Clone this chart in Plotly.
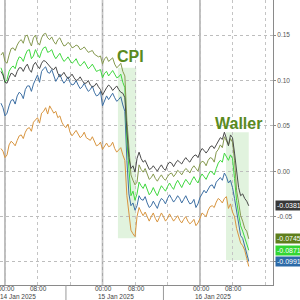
import plotly.graph_objects as go
import pandas as pd

# observations on the hour (13 Jan 23:00 .. 16 Jan 12:00) and on the half hour in between
start = pd.Timestamp("2025-01-13 23:00")
hour_times = pd.date_range(start, periods=62, freq="h")
half_times = pd.date_range(start + pd.Timedelta(minutes=30), periods=61, freq="h")

olive_hour = [0.128, 0.121, 0.128, 0.136, 0.139, 0.145, 0.149, 0.143, 0.147, 0.142,
              0.147, 0.152, 0.145, 0.143, 0.145, 0.142, 0.139, 0.140, 0.137, 0.138,
              0.135, 0.134, 0.132, 0.129, 0.126, 0.118, 0.126, 0.123, 0.118, 0.116,
              0.110, 0.056, -0.004, -0.015, 0.007, -0.001, -0.004, -0.007, -0.008, -0.007,
              -0.008, -0.006, -0.002, -0.003, -0.001, 0.000, 0.001, 0.003, 0.003, 0.008,
              0.010, 0.012, 0.014, 0.021, 0.029, 0.038, 0.029, 0.032, -0.021, -0.049,
              -0.063, -0.0745]
olive_half = [0.131, 0.119, 0.135, 0.133, 0.143, 0.141, 0.150, 0.138, 0.150, 0.139,
              0.151, 0.147, 0.148, 0.140, 0.147, 0.138, 0.142, 0.136, 0.139, 0.134,
              0.137, 0.131, 0.133, 0.127, 0.127, 0.124, 0.121, 0.125, 0.114, 0.119,
              0.105, 0.020, -0.010, -0.012, 0.002, 0.003, -0.009, -0.003, -0.011, -0.004,
              -0.010, -0.003, -0.006, 0.001, -0.004, 0.003, -0.002, 0.006, 0.000, 0.011,
              0.006, 0.015, 0.010, 0.024, 0.026, 0.034, 0.036, 0.012, -0.034, -0.055,
              -0.066]
dark_hour = [0.110, 0.098, 0.103, 0.107, 0.110, 0.114, 0.115, 0.112, 0.117, 0.116,
             0.119, 0.121, 0.116, 0.112, 0.108, 0.106, 0.105, 0.104, 0.103, 0.101,
             0.100, 0.097, 0.095, 0.094, 0.093, 0.084, 0.092, 0.093, 0.091, 0.090,
             0.086, 0.045, 0.003, -0.001, 0.021, 0.010, 0.007, 0.003, 0.003, 0.004,
             0.003, 0.007, 0.009, 0.009, 0.010, 0.012, 0.012, 0.014, 0.018, 0.021,
             0.023, 0.023, 0.028, 0.029, 0.037, 0.043, 0.028, 0.037, 0.003, -0.027,
             -0.030, -0.0381]
dark_half = [0.106, 0.097, 0.108, 0.104, 0.114, 0.110, 0.118, 0.109, 0.120, 0.113,
             0.122, 0.118, 0.113, 0.115, 0.104, 0.109, 0.102, 0.107, 0.100, 0.104,
             0.097, 0.100, 0.093, 0.097, 0.090, 0.089, 0.095, 0.089, 0.094, 0.087,
             0.081, 0.015, 0.006, 0.014, 0.014, 0.012, 0.002, 0.006, 0.000, 0.007,
             0.001, 0.010, 0.005, 0.012, 0.008, 0.015, 0.010, 0.017, 0.015, 0.025,
             0.020, 0.027, 0.025, 0.034, 0.035, 0.036, 0.040, 0.020, -0.018, -0.025,
             -0.033]
green_hour = [0.114, 0.098, 0.110, 0.116, 0.121, 0.125, 0.128, 0.134, 0.127, 0.129,
              0.132, 0.137, 0.132, 0.128, 0.127, 0.125, 0.123, 0.122, 0.121, 0.119,
              0.118, 0.117, 0.115, 0.114, 0.111, 0.103, 0.110, 0.108, 0.107, 0.104,
              0.098, 0.034, -0.027, -0.032, -0.012, -0.019, -0.021, -0.023, -0.023, -0.021,
              -0.019, -0.017, -0.017, -0.014, -0.014, -0.013, -0.012, -0.010, -0.010, -0.007,
              -0.006, -0.004, -0.001, 0.003, 0.012, 0.020, 0.012, 0.014, -0.032, -0.060,
              -0.074, -0.0871]
green_half = [0.108, 0.101, 0.114, 0.113, 0.126, 0.121, 0.133, 0.124, 0.134, 0.125,
              0.136, 0.131, 0.134, 0.124, 0.130, 0.121, 0.126, 0.119, 0.124, 0.116,
              0.121, 0.113, 0.118, 0.110, 0.112, 0.108, 0.105, 0.111, 0.103, 0.107,
              0.092, 0.000, -0.022, -0.025, -0.016, -0.014, -0.026, -0.018, -0.027, -0.016,
              -0.022, -0.013, -0.020, -0.010, -0.018, -0.009, -0.015, -0.006, -0.013, -0.003,
              -0.009, 0.000, -0.004, 0.009, 0.010, 0.016, 0.018, -0.008, -0.047, -0.066,
              -0.080]
blue_hour = [0.075, 0.061, 0.072, 0.079, 0.083, 0.085, 0.090, 0.094, 0.096, 0.106,
             0.110, 0.115, 0.108, 0.104, 0.103, 0.101, 0.100, 0.098, 0.096, 0.095,
             0.093, 0.092, 0.090, 0.087, 0.084, 0.072, 0.083, 0.083, 0.081, 0.079,
             0.073, 0.012, -0.038, -0.043, -0.027, -0.032, -0.035, -0.038, -0.037, -0.034,
             -0.032, -0.030, -0.030, -0.031, -0.030, -0.031, -0.032, -0.035, -0.040, -0.029,
             -0.021, -0.019, -0.015, -0.012, -0.007, -0.002, -0.013, -0.018, -0.043, -0.071,
             -0.082, -0.0991]
blue_half = [0.070, 0.064, 0.078, 0.074, 0.087, 0.080, 0.094, 0.088, 0.101, 0.098,
             0.113, 0.109, 0.112, 0.099, 0.107, 0.097, 0.104, 0.095, 0.100, 0.091,
             0.097, 0.088, 0.094, 0.083, 0.088, 0.078, 0.079, 0.086, 0.077, 0.082,
             0.066, -0.025, -0.035, -0.038, -0.031, -0.028, -0.040, -0.033, -0.041, -0.030,
             -0.036, -0.026, -0.034, -0.027, -0.035, -0.027, -0.036, -0.031, -0.036, -0.025,
             -0.024, -0.016, -0.019, -0.009, -0.010, -0.006, -0.010, -0.030, -0.058, -0.074,
             -0.090]
orange_hour = [0.025, 0.015, 0.029, 0.031, 0.034, 0.040, 0.043, 0.048, 0.054, 0.059,
               0.064, 0.070, 0.072, 0.064, 0.059, 0.054, 0.048, 0.043, 0.042, 0.041,
               0.039, 0.037, 0.034, 0.032, 0.029, 0.024, 0.031, 0.028, 0.025, 0.023,
               0.018, -0.027, -0.065, -0.072, -0.040, -0.049, -0.051, -0.050, -0.052, -0.051,
               -0.050, -0.052, -0.051, -0.052, -0.054, -0.053, -0.055, -0.056, -0.060, -0.052,
               -0.048, -0.043, -0.038, -0.034, -0.032, -0.030, -0.041, -0.045, -0.063, -0.079,
               -0.087, -0.105]
orange_half = [0.022, 0.018, 0.033, 0.028, 0.039, 0.036, 0.047, 0.044, 0.057, 0.053,
               0.066, 0.063, 0.068, 0.066, 0.061, 0.050, 0.052, 0.039, 0.045, 0.037,
               0.043, 0.035, 0.038, 0.028, 0.032, 0.027, 0.027, 0.032, 0.021, 0.026,
               0.012, -0.048, -0.069, -0.050, -0.045, -0.045, -0.055, -0.046, -0.056, -0.046,
               -0.055, -0.047, -0.055, -0.049, -0.057, -0.050, -0.058, -0.053, -0.057, -0.046,
               -0.050, -0.039, -0.040, -0.030, -0.035, -0.028, -0.036, -0.050, -0.072, -0.082,
               -0.096]

y_ticks = [-0.10, -0.05, 0.00, 0.05, 0.10, 0.15]
y_ticktext = ["", "-0.05", "0.00", "0.05", "0.10", "0.15"]
day_starts = ["2025-01-14 00:00", "2025-01-15 00:00", "2025-01-16 00:00"]
day_labels = ["14 Jan 2025", "15 Jan 2025", "16 Jan 2025"]
grid_times = ["2025-01-14 00:00", "2025-01-14 08:00", "2025-01-14 16:00",
              "2025-01-15 00:00", "2025-01-15 08:00", "2025-01-15 16:00",
              "2025-01-16 00:00", "2025-01-16 08:00", "2025-01-16 16:00"]
hour_label_times = ["2025-01-14 00:00", "2025-01-14 08:00", "2025-01-15 00:00",
                    "2025-01-15 08:00", "2025-01-16 00:00", "2025-01-16 08:00"]
hour_labels = ["00:00", "08:00", "00:00", "08:00", "00:00", "08:00"]
events = [("CPI", "2025-01-15 03:48", "2025-01-15 08:18", 0.114, -0.074),
          ("Waller", "2025-01-16 06:24", "2025-01-16 12:00", 0.043, -0.098)]
event_text_pos = [("CPI", "2025-01-15 07:00", 0.1265),
                  ("Waller", "2025-01-16 09:30", 0.0530)]


def merge(hour_vals, half_vals):
    s = pd.concat([pd.Series(hour_vals, index=hour_times),
                   pd.Series(half_vals, index=half_times)]).sort_index()
    return s


series = [
    ("orange", merge(orange_hour, orange_half), "#d8953f", False),
    ("blue", merge(blue_hour, blue_half), "#3d6fa3", True),
    ("green", merge(green_hour, green_half), "#3fd83f", True),
    ("olive", merge(olive_hour, olive_half), "#85994f", True),
    ("dark", merge(dark_hour, dark_half), "#4a4a4a", True),
]
tag_colors = {"orange": "#d8953f", "blue": "#2c6aa8", "green": "#33d633",
              "olive": "#5e7f1c", "dark": "#383838"}

fig = go.Figure()
for name, s, color, _ in series:
    fig.add_trace(go.Scatter(x=s.index, y=s.values, mode="lines", name=name,
                             line=dict(color=color, width=1), showlegend=False))

shapes = []
for label, x0, x1, y0, y1 in events:
    shapes.append(dict(type="rect", xref="x", yref="y", x0=x0, x1=x1, y0=y1, y1=y0,
                       fillcolor="rgba(205,235,200,0.6)", line=dict(width=0), layer="below"))
for d in day_starts:
    shapes.append(dict(type="line", xref="x", yref="paper", x0=d, x1=d, y0=0, y1=1,
                       line=dict(color="#a8a8a8", width=1.5), layer="below"))
for d in ["2025-01-14 15:00", "2025-01-15 15:00"]:
    shapes.append(dict(type="line", xref="x", yref="paper", x0=d, x1=d, y0=-0.06, y1=0,
                       line=dict(color="#999999", width=1)))

font_small = dict(family="Liberation Sans, Arial", size=6.5, color="#444")
annotations = []
for label, xt, yt in event_text_pos:
    annotations.append(dict(x=xt, y=yt, xref="x", yref="y", text="<b>%s</b>" % label,
                            showarrow=False, font=dict(family="Liberation Sans, Arial", size=16,
                                                       color="#5a8a1e")))
for t, lab in zip(hour_label_times, hour_labels):
    annotations.append(dict(x=t, y=-0.011, xref="x", yref="paper", text=lab, showarrow=False,
                            xanchor="center", yanchor="middle", xshift=1, font=font_small))
for d, lab in zip(day_starts, day_labels):
    annotations.append(dict(x=d, y=-0.042, xref="x", yref="paper", text=lab, showarrow=False,
                            xanchor="left", yanchor="middle", xshift=-7, font=font_small))
for name, s, color, tagged in series:
    if tagged:
        v = s.values[-1]
        annotations.append(dict(x=1, y=v, xref="paper", yref="y", text="%.4f" % v,
                                showarrow=False, xanchor="left", yanchor="middle", xshift=2,
                                bgcolor=tag_colors[name], borderpad=1,
                                font=dict(family="Liberation Sans, Arial", size=7, color="white")))

fig.update_layout(
    width=300, height=300,
    margin=dict(l=0, r=27, t=0, b=15, pad=0),
    plot_bgcolor="white", paper_bgcolor="white",
    shapes=shapes, annotations=annotations,
    xaxis=dict(range=["2025-01-13 22:46", "2025-01-16 17:58"], tickvals=grid_times,
               showticklabels=False,
               showgrid=True, gridcolor="#c4c4c4", griddash="dot", gridwidth=1,
               showline=True, linecolor="#8a8a8a", linewidth=1, ticks="", zeroline=False),
    yaxis=dict(range=[-0.1254, 0.1887], side="right", tickvals=y_ticks, ticktext=y_ticktext,
               showgrid=True, gridcolor="#bdbdbd", griddash="dot", gridwidth=1,
               showline=True, linecolor="#8a8a8a", linewidth=1, ticks="outside", ticklen=2,
               tickcolor="#8a8a8a", zeroline=False,
               tickfont=dict(family="Liberation Sans, Arial", size=6.5, color="#555")),
)

fig.write_html("out.html")
